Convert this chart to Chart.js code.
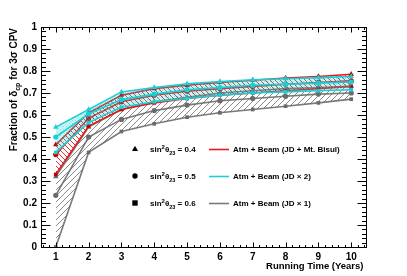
<!DOCTYPE html>
<html><head><meta charset="utf-8">
<script src="https://cdn.jsdelivr.net/npm/chart.js@4"></script>
<style>html,body{margin:0;padding:0;background:#fff}#w{width:407px;height:276px;position:relative}</style>
</head><body><div id="w"><canvas id="c" width="407" height="276"></canvas></div>
<script>
const years = [1,2,3,4,5,6,7,8,9,10];
const xTicks = [1,2,3,4,5,6,7,8,9,10];
const yTicks = [0,0.1,0.2,0.3,0.4,0.5,0.6,0.7,0.8,0.9,1];
const yTickLabels = ['0','0.1','0.2','0.3','0.4','0.5','0.6','0.7','0.8','0.9','1'];
// Atm + Beam (JD x 2)
const cyan04 = [0.545,0.625,0.705,0.725,0.742,0.752,0.760,0.765,0.770,0.775];
const cyan05 = [0.500,0.605,0.670,0.695,0.715,0.725,0.735,0.740,0.745,0.750];
const cyan06 = [0.430,0.565,0.635,0.660,0.675,0.690,0.700,0.705,0.710,0.715];
// Atm + Beam (JD + Mt. Bisul)
const red04 = [0.465,0.610,0.690,0.720,0.735,0.748,0.758,0.768,0.775,0.785];
const red05 = [0.420,0.585,0.660,0.690,0.708,0.720,0.730,0.740,0.748,0.755];
const red06 = [0.330,0.550,0.625,0.655,0.675,0.690,0.700,0.710,0.720,0.730];
// Atm + Beam (JD x 1)
const gray04 = [0.320,0.545,0.625,0.660,0.680,0.700,0.710,0.720,0.725,0.730];
const gray05 = [0.235,0.500,0.580,0.620,0.645,0.665,0.675,0.685,0.695,0.700];
const gray06 = [0.000,0.430,0.525,0.560,0.590,0.610,0.625,0.640,0.655,0.672];
const thetaLabels = ['0.4','0.5','0.6'];
const seriesLabels = ['Atm + Beam (JD + Mt. Bisul)','Atm + Beam (JD \u00d7 2)','Atm + Beam (JD \u00d7 1)'];

const RED='#e41a1c', REDM='#c00000', CYAN='#1ccfd4', GRAY='#7a7a7a';
const FONT='"Liberation Sans", Arial, Helvetica, sans-serif';

function hatch(color, size, dir, lw, bg){
  const c=document.createElement('canvas'); c.width=c.height=size;
  const x=c.getContext('2d');
  if(bg){x.fillStyle=bg;x.fillRect(0,0,size,size);}
  x.strokeStyle=color; x.lineWidth=lw; x.beginPath();
  if(dir>0){
    x.moveTo(-size,2*size);x.lineTo(2*size,-size);
    x.moveTo(-2*size,2*size);x.lineTo(size,-size);
    x.moveTo(0,2*size);x.lineTo(3*size,-size);
  } else {
    x.moveTo(-size,-size);x.lineTo(2*size,2*size);
    x.moveTo(-2*size,-size);x.lineTo(size,2*size);
    x.moveTo(0,-size);x.lineTo(3*size,2*size);
  }
  x.stroke();
  return x.createPattern(c,'repeat');
}
function dots(color,bg){
  const c=document.createElement('canvas'); c.width=c.height=3;
  const x=c.getContext('2d'); x.fillStyle=bg; x.fillRect(0,0,3,3);
  x.fillStyle=color; x.fillRect(0,0,1,1); x.fillRect(1.5,1.5,1,1);
  return x.createPattern(c,'repeat');
}
const pts = a => a.map((v,i)=>({x:years[i],y:v}));
function ds(data,color,mcolor,style,fill,bgc){
  return {data:pts(data),borderColor:color,borderWidth:1.6,pointStyle:style,
    pointRadius:style==='triangle'?3.2:2.6,pointBackgroundColor:mcolor,pointBorderColor:mcolor,
    pointBorderWidth:0,fill:fill,backgroundColor:bgc||'transparent',tension:0};
}
const cyanFill = dots('rgba(28,207,212,0.55)','rgba(28,207,212,0.18)');
const redFill = hatch('rgba(228,26,28,0.9)',5,-1,1);
const grayFill = hatch('rgba(110,110,110,0.9)',6,1,0.9);

const datasets=[
  ds(cyan04,CYAN,CYAN,'triangle','+2',cyanFill),
  ds(cyan05,CYAN,CYAN,'circle',false),
  ds(cyan06,CYAN,CYAN,'rect',false),
  ds(red04,RED,REDM,'triangle','+2',redFill),
  ds(red05,RED,REDM,'circle',false),
  ds(red06,RED,REDM,'rect',false),
  ds(gray04,GRAY,'#6a6a6a','triangle','+2',grayFill),
  ds(gray05,GRAY,'#6a6a6a','circle',false),
  ds(gray06,GRAY,'#6a6a6a','rect',false)
];

function richText(ctx,parts,x,y,measureOnly){
  let cx=x;
  for(const p of parts){
    ctx.font=p.f; const w=ctx.measureText(p.t).width;
    if(!measureOnly) ctx.fillText(p.t,cx,y+(p.dy||0));
    cx+=w;
  }
  return cx-x;
}

const deco={id:'deco',afterDraw(chart){
  const ctx=chart.ctx, a=chart.chartArea, xs=chart.scales.x, ys=chart.scales.y;
  ctx.save();
  ctx.strokeStyle='#000'; ctx.lineWidth=1;
  const L=Math.round(a.left)+0.5, R=Math.round(a.right)+0.5, T=Math.round(a.top)+0.5, B=Math.round(a.bottom)+0.5;
  ctx.strokeRect(L,T,R-L,B-T);
  ctx.beginPath();
  // y ticks
  for(let k=0;k<=50;k++){
    const v=k/50, py=Math.round(ys.getPixelForValue(v))+0.5;
    const len=(k%5===0)?9:4.5;
    ctx.moveTo(L,py);ctx.lineTo(L+len,py);
    ctx.moveTo(R,py);ctx.lineTo(R-len,py);
  }
  // x ticks
  for(let k=3;k<=52;k++){
    const v=k/5; if(v<xs.min||v>xs.max) continue;
    const px=Math.round(xs.getPixelForValue(v))+0.5;
    const len=(k%5===0)?5:2.5;
    ctx.moveTo(px,B);ctx.lineTo(px,B-len);
    ctx.moveTo(px,T);ctx.lineTo(px,T+len);
  }
  ctx.stroke();
  ctx.fillStyle='#000'; ctx.textBaseline='alphabetic'; ctx.textAlign='left';
  // x title
  ctx.font='bold 9.5px '+FONT;
  const xt='Running Time (Years)';
  ctx.fillText(xt,R-3-ctx.measureText(xt).width,269);
  // y title
  const tparts=[{t:'Fraction of \u03b4',f:'bold 10px '+FONT},{t:'cp',f:'bold 7px '+FONT,dy:2.5},{t:' for 3\u03c3 CPV',f:'bold 10px '+FONT}];
  const tw=richText(ctx,tparts,0,0,true);
  ctx.save(); ctx.translate(17,28+tw); ctx.rotate(-Math.PI/2);
  richText(ctx,tparts,0,0,false); ctx.restore();
  // legend
  const rows=[149,176,203];
  const styles=['triangle','circle','rect'];
  const lcols=[RED,CYAN,GRAY];
  rows.forEach((ry,i)=>{
    ctx.fillStyle='#000';
    ctx.beginPath();
    if(styles[i]==='triangle'){ctx.moveTo(135,ry-3.2);ctx.lineTo(138,ry+2);ctx.lineTo(132,ry+2);ctx.closePath();}
    else if(styles[i]==='circle'){ctx.arc(135,ry,2.7,0,Math.PI*2);}
    else {ctx.rect(132.3,ry-2.7,5.4,5.4);}
    ctx.fill();
    const parts=[{t:'sin',f:'bold 8px '+FONT},{t:'2',f:'bold 6px '+FONT,dy:-3.5},{t:'\u03b8',f:'bold 8px '+FONT},{t:'23',f:'bold 5.5px '+FONT,dy:2.5},{t:' = '+thetaLabels[i],f:'bold 8px '+FONT}];
    richText(ctx,parts,150,ry+3,false);
    ctx.strokeStyle=lcols[i]; ctx.lineWidth=1.6;
    ctx.beginPath(); ctx.moveTo(209,ry+0.5); ctx.lineTo(229,ry+0.5); ctx.stroke();
    ctx.font='bold 8px '+FONT; ctx.fillStyle='#000';
    ctx.fillText(seriesLabels[i],233,ry+3);
  });
  ctx.restore();
}};

new Chart(document.getElementById('c'),{
  type:'line',
  data:{datasets},
  options:{
    responsive:false,animation:false,
    layout:{padding:{top:27,right:41,left:0,bottom:0}},
    plugins:{legend:{display:false},tooltip:{enabled:false},filler:{propagate:false}},
    elements:{line:{borderCapStyle:'round'}},
    scales:{
      x:{type:'linear',min:0.55,max:10.45,
        afterBuildTicks:s=>{s.ticks=xTicks.map(v=>({value:v}));},
        afterFit:s=>{s.height=29;},
        grid:{display:false,drawTicks:false},border:{display:false},
        ticks:{padding:4,color:'#000',font:{family:FONT,size:10,weight:'bold'},maxRotation:0,callback:v=>String(v)}},
      y:{type:'linear',min:0,max:1,
        afterBuildTicks:s=>{s.ticks=yTicks.map(v=>({value:v}));},
        afterFit:s=>{s.width=41;},
        grid:{display:false,drawTicks:false},border:{display:false},
        ticks:{padding:4,color:'#000',font:{family:FONT,size:10,weight:'bold'},
          callback:(v,i)=>yTickLabels[i]}}
    }
  },
  plugins:[deco]
});
</script></body></html>
